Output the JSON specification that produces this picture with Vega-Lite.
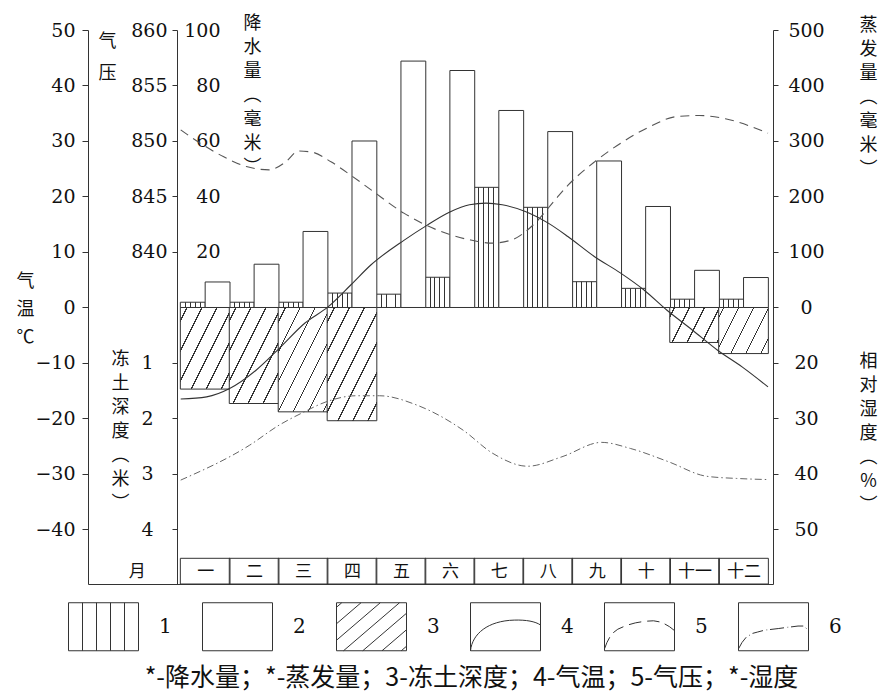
{
 "$schema": "https://vega.github.io/schema/vega-lite/v6.json",
 "width": 685,
 "height": 554,
 "autosize": {"type": "none"},
 "padding": {"left": 88, "top": 30, "right": 111, "bottom": 111},
 "background": "white",
 "config": {
  "view": {"stroke": null},
  "axis": {"grid": false, "labelFont": "DejaVu Serif", "labelFontSize": 19, "labelColor": "#111", "titleFont": "Noto Sans CJK SC", "titleFontSize": 18, "titleFontWeight": "normal", "titleColor": "#111", "domainColor": "#333", "tickColor": "#333", "labelOverlap": false, "labelFlush": false, "labelBound": false, "titleAngle": 0, "titleAlign": "center", "titleBaseline": "top"}
 },
 "datasets": {
  "months": [
   {"m": 1, "precip": 1.9, "evap": 46, "frozen": 1.47},
   {"m": 2, "precip": 1.9, "evap": 78, "frozen": 1.73},
   {"m": 3, "precip": 1.9, "evap": 137, "frozen": 1.88},
   {"m": 4, "precip": 5.2, "evap": 300, "frozen": 2.04},
   {"m": 5, "precip": 4.8, "evap": 444, "frozen": 0},
   {"m": 6, "precip": 10.9, "evap": 427, "frozen": 0},
   {"m": 7, "precip": 43.3, "evap": 355, "frozen": 0},
   {"m": 8, "precip": 36.1, "evap": 317, "frozen": 0},
   {"m": 9, "precip": 9.3, "evap": 264, "frozen": 0},
   {"m": 10, "precip": 6.9, "evap": 182, "frozen": 0},
   {"m": 11, "precip": 3.0, "evap": 67, "frozen": 0.63},
   {"m": 12, "precip": 3.0, "evap": 54, "frozen": 0.83}
  ],
  "temp": [
   {"m": 0.5, "t": -16.5}, {"m": 1.03, "t": -16.1}, {"m": 1.5, "t": -14.6}, {"m": 2.04, "t": -11.3},
   {"m": 2.51, "t": -7.4}, {"m": 3.04, "t": -2.8}, {"m": 3.51, "t": 0.1}, {"m": 3.98, "t": 4.1},
   {"m": 4.39, "t": 7.7}, {"m": 5.06, "t": 12.1}, {"m": 5.53, "t": 14.8}, {"m": 6.0, "t": 17.2},
   {"m": 6.4, "t": 18.5}, {"m": 6.74, "t": 18.8}, {"m": 7.07, "t": 18.5}, {"m": 7.54, "t": 17.3},
   {"m": 8.01, "t": 15.2}, {"m": 8.41, "t": 12.8}, {"m": 8.95, "t": 9.2}, {"m": 9.49, "t": 6.2},
   {"m": 9.96, "t": 3.2}, {"m": 10.43, "t": -0.45}, {"m": 10.96, "t": -4.1}, {"m": 11.47, "t": -7.7},
   {"m": 11.97, "t": -10.7}, {"m": 12.5, "t": -14.3}
  ],
  "pres": [
   {"m": 0.5, "p": 851.0}, {"m": 0.9, "p": 849.8}, {"m": 1.37, "p": 848.6}, {"m": 1.84, "p": 847.7},
   {"m": 2.31, "p": 847.4}, {"m": 2.64, "p": 848.1}, {"m": 2.91, "p": 849.1}, {"m": 3.18, "p": 849.0},
   {"m": 3.58, "p": 848.1}, {"m": 3.98, "p": 846.9}, {"m": 4.39, "p": 845.6}, {"m": 5.06, "p": 843.5},
   {"m": 5.73, "p": 842.0}, {"m": 6.4, "p": 841.1}, {"m": 6.87, "p": 840.8}, {"m": 7.27, "p": 841.1},
   {"m": 7.74, "p": 842.6}, {"m": 8.15, "p": 844.7}, {"m": 8.41, "p": 846.0}, {"m": 8.95, "p": 848.1},
   {"m": 9.49, "p": 849.8}, {"m": 10.09, "p": 851.3}, {"m": 10.63, "p": 852.2}, {"m": 11.1, "p": 852.3},
   {"m": 11.63, "p": 852.0}, {"m": 12.5, "p": 850.7}
  ],
  "hum": [
   {"m": 0.5, "h": 41.1}, {"m": 1.91, "h": 34.8}, {"m": 2.51, "h": 31.2}, {"m": 2.98, "h": 29.0},
   {"m": 3.47, "h": 27.0}, {"m": 4.09, "h": 25.9}, {"m": 4.56, "h": 25.9}, {"m": 5.33, "h": 27.6},
   {"m": 6.27, "h": 32.1}, {"m": 6.88, "h": 36.3}, {"m": 7.59, "h": 38.6}, {"m": 8.29, "h": 36.9},
   {"m": 9.1, "h": 34.3}, {"m": 9.69, "h": 35.4}, {"m": 10.47, "h": 37.8}, {"m": 11.24, "h": 40.4},
   {"m": 11.86, "h": 40.8}, {"m": 12.49, "h": 41.0}
  ],
  "legend": [{"k": "1"}, {"k": "2"}, {"k": "3"}, {"k": "4"}, {"k": "5"}, {"k": "6"}]
 },
 "encoding": {
  "x": {
   "field": "m", "type": "quantitative",
   "scale": {"domain": [-1.2918, 12.5], "nice": false, "zero": false},
   "axis": {
    "orient": "bottom", "values": [-0.396, 1, 2, 3, 4, 5, 6, 7, 8, 9, 10, 11, 12],
    "labelExpr": "datum.value < 0 ? '月' : ['一','二','三','四','五','六','七','八','九','十','十一','十二'][datum.value - 1]",
    "ticks": false, "tickSize": 0, "labelPadding": -13, "labelBaseline": "middle",
    "labelFont": "Noto Sans CJK SC", "labelFontSize": 17, "domain": true,
    "title": "*-降水量；*-蒸发量；3-冻土深度；4-气温；5-气压；*-湿度",
    "titleX": 383, "titleY": 93, "titleBaseline": "middle", "titleFontSize": 25
   }
  }
 },
 "layer": [
  {
   "data": {"name": "months"},
   "transform": [{"filter": "datum.frozen > 0"}],
   "mark": {"type": "bar", "width": 49.67, "stroke": "#333", "strokeWidth": 1},
   "encoding": {
    "y": {"field": "frozen", "type": "quantitative",
     "scale": {"domain": [-5, 4.982], "reverse": true, "nice": false, "zero": false},
     "axis": {"orient": "left", "offset": -89, "values": [1, 2, 3, 4], "tickSize": 5, "labelPadding": 19, "domain": false,
      "title": ["冻", "土", "深", "度", "︵", "米", "︶"], "titleX": -57, "titleY": 320, "titleLineHeight": 24}},
    "y2": {"datum": 0},
    "fill": {
     "condition": [
      {"test": "datum.m === 1", "value": {"gradient": "linear", "x1": 0, "y1": 0, "x2": 1.0876, "y2": 0.8934, "stops": [
       {"offset": 0, "color": "#ffffff"},
       {"offset": 0.0666, "color": "#ffffff"}, {"offset": 0.0666, "color": "#333333"}, {"offset": 0.0814, "color": "#333333"}, {"offset": 0.0814, "color": "#ffffff"},
       {"offset": 0.2326, "color": "#ffffff"}, {"offset": 0.2326, "color": "#333333"}, {"offset": 0.2474, "color": "#333333"}, {"offset": 0.2474, "color": "#ffffff"},
       {"offset": 0.3976, "color": "#ffffff"}, {"offset": 0.3976, "color": "#333333"}, {"offset": 0.4124, "color": "#333333"}, {"offset": 0.4124, "color": "#ffffff"},
       {"offset": 0.5636, "color": "#ffffff"}, {"offset": 0.5636, "color": "#333333"}, {"offset": 0.5784, "color": "#333333"}, {"offset": 0.5784, "color": "#ffffff"},
       {"offset": 0.7286, "color": "#ffffff"}, {"offset": 0.7286, "color": "#333333"}, {"offset": 0.7434, "color": "#333333"}, {"offset": 0.7434, "color": "#ffffff"},
       {"offset": 0.8946, "color": "#ffffff"}, {"offset": 0.8946, "color": "#333333"}, {"offset": 0.9094, "color": "#333333"}, {"offset": 0.9094, "color": "#ffffff"},
       {"offset": 1, "color": "#ffffff"}]}},
      {"test": "datum.m === 2", "value": {"gradient": "linear", "x1": 0, "y1": 0, "x2": 1.0168, "y2": 0.9826, "stops": [
       {"offset": 0, "color": "#ffffff"},
       {"offset": 0.0631, "color": "#ffffff"}, {"offset": 0.0631, "color": "#333333"}, {"offset": 0.0769, "color": "#333333"}, {"offset": 0.0769, "color": "#ffffff"},
       {"offset": 0.2165, "color": "#ffffff"}, {"offset": 0.2165, "color": "#333333"}, {"offset": 0.2303, "color": "#333333"}, {"offset": 0.2303, "color": "#ffffff"},
       {"offset": 0.3699, "color": "#ffffff"}, {"offset": 0.3699, "color": "#333333"}, {"offset": 0.3837, "color": "#333333"}, {"offset": 0.3837, "color": "#ffffff"},
       {"offset": 0.5233, "color": "#ffffff"}, {"offset": 0.5233, "color": "#333333"}, {"offset": 0.5371, "color": "#333333"}, {"offset": 0.5371, "color": "#ffffff"},
       {"offset": 0.6767, "color": "#ffffff"}, {"offset": 0.6767, "color": "#333333"}, {"offset": 0.6905, "color": "#333333"}, {"offset": 0.6905, "color": "#ffffff"},
       {"offset": 0.8301, "color": "#ffffff"}, {"offset": 0.8301, "color": "#333333"}, {"offset": 0.8439, "color": "#333333"}, {"offset": 0.8439, "color": "#ffffff"},
       {"offset": 1, "color": "#ffffff"}]}},
      {"test": "datum.m === 3", "value": {"gradient": "linear", "x1": 0, "y1": 0, "x2": 0.9751, "y2": 1.0238, "stops": [
       {"offset": 0, "color": "#ffffff"},
       {"offset": 0.0634, "color": "#ffffff"}, {"offset": 0.0634, "color": "#333333"}, {"offset": 0.0766, "color": "#333333"}, {"offset": 0.0766, "color": "#ffffff"},
       {"offset": 0.2105, "color": "#ffffff"}, {"offset": 0.2105, "color": "#333333"}, {"offset": 0.2237, "color": "#333333"}, {"offset": 0.2237, "color": "#ffffff"},
       {"offset": 0.3576, "color": "#ffffff"}, {"offset": 0.3576, "color": "#333333"}, {"offset": 0.3708, "color": "#333333"}, {"offset": 0.3708, "color": "#ffffff"},
       {"offset": 0.5047, "color": "#ffffff"}, {"offset": 0.5047, "color": "#333333"}, {"offset": 0.5179, "color": "#333333"}, {"offset": 0.5179, "color": "#ffffff"},
       {"offset": 0.6518, "color": "#ffffff"}, {"offset": 0.6518, "color": "#333333"}, {"offset": 0.665, "color": "#333333"}, {"offset": 0.665, "color": "#ffffff"},
       {"offset": 0.7989, "color": "#ffffff"}, {"offset": 0.7989, "color": "#333333"}, {"offset": 0.8121, "color": "#333333"}, {"offset": 0.8121, "color": "#ffffff"},
       {"offset": 0.946, "color": "#ffffff"}, {"offset": 0.946, "color": "#333333"}, {"offset": 0.9592, "color": "#333333"}, {"offset": 0.9592, "color": "#ffffff"},
       {"offset": 1, "color": "#ffffff"}]}},
      {"test": "datum.m === 4", "value": {"gradient": "linear", "x1": 0, "y1": 0, "x2": 0.9309, "y2": 1.0607, "stops": [
       {"offset": 0, "color": "#ffffff"},
       {"offset": 0.0637, "color": "#ffffff"}, {"offset": 0.0637, "color": "#333333"}, {"offset": 0.0763, "color": "#333333"}, {"offset": 0.0763, "color": "#ffffff"},
       {"offset": 0.2047, "color": "#ffffff"}, {"offset": 0.2047, "color": "#333333"}, {"offset": 0.2173, "color": "#333333"}, {"offset": 0.2173, "color": "#ffffff"},
       {"offset": 0.3457, "color": "#ffffff"}, {"offset": 0.3457, "color": "#333333"}, {"offset": 0.3583, "color": "#333333"}, {"offset": 0.3583, "color": "#ffffff"},
       {"offset": 0.4867, "color": "#ffffff"}, {"offset": 0.4867, "color": "#333333"}, {"offset": 0.4993, "color": "#333333"}, {"offset": 0.4993, "color": "#ffffff"},
       {"offset": 0.6277, "color": "#ffffff"}, {"offset": 0.6277, "color": "#333333"}, {"offset": 0.6403, "color": "#333333"}, {"offset": 0.6403, "color": "#ffffff"},
       {"offset": 0.7687, "color": "#ffffff"}, {"offset": 0.7687, "color": "#333333"}, {"offset": 0.7813, "color": "#333333"}, {"offset": 0.7813, "color": "#ffffff"},
       {"offset": 0.9097, "color": "#ffffff"}, {"offset": 0.9097, "color": "#333333"}, {"offset": 0.9223, "color": "#333333"}, {"offset": 0.9223, "color": "#ffffff"},
       {"offset": 1, "color": "#ffffff"}]}},
      {"test": "datum.m === 11", "value": {"gradient": "linear", "x1": 0, "y1": 0, "x2": 1.2029, "y2": 0.4238, "stops": [
       {"offset": 0, "color": "#ffffff"},
       {"offset": 0.06, "color": "#ffffff"}, {"offset": 0.06, "color": "#333333"}, {"offset": 0.08, "color": "#333333"}, {"offset": 0.08, "color": "#ffffff"},
       {"offset": 0.283, "color": "#ffffff"}, {"offset": 0.283, "color": "#333333"}, {"offset": 0.303, "color": "#333333"}, {"offset": 0.303, "color": "#ffffff"},
       {"offset": 0.506, "color": "#ffffff"}, {"offset": 0.506, "color": "#333333"}, {"offset": 0.526, "color": "#333333"}, {"offset": 0.526, "color": "#ffffff"},
       {"offset": 0.729, "color": "#ffffff"}, {"offset": 0.729, "color": "#333333"}, {"offset": 0.749, "color": "#333333"}, {"offset": 0.749, "color": "#ffffff"},
       {"offset": 0.952, "color": "#ffffff"}, {"offset": 0.952, "color": "#333333"}, {"offset": 0.972, "color": "#333333"}, {"offset": 0.972, "color": "#ffffff"},
       {"offset": 1, "color": "#ffffff"}]}},
      {"test": "datum.m === 12", "value": {"gradient": "linear", "x1": 0, "y1": 0, "x2": 1.2047, "y2": 0.559, "stops": [
       {"offset": 0, "color": "#ffffff"},
       {"offset": 0.0608, "color": "#ffffff"}, {"offset": 0.0608, "color": "#333333"}, {"offset": 0.0792, "color": "#333333"}, {"offset": 0.0792, "color": "#ffffff"},
       {"offset": 0.2668, "color": "#ffffff"}, {"offset": 0.2668, "color": "#333333"}, {"offset": 0.2852, "color": "#333333"}, {"offset": 0.2852, "color": "#ffffff"},
       {"offset": 0.4728, "color": "#ffffff"}, {"offset": 0.4728, "color": "#333333"}, {"offset": 0.4912, "color": "#333333"}, {"offset": 0.4912, "color": "#ffffff"},
       {"offset": 0.6788, "color": "#ffffff"}, {"offset": 0.6788, "color": "#333333"}, {"offset": 0.6972, "color": "#333333"}, {"offset": 0.6972, "color": "#ffffff"},
       {"offset": 0.8848, "color": "#ffffff"}, {"offset": 0.8848, "color": "#333333"}, {"offset": 0.9032, "color": "#333333"}, {"offset": 0.9032, "color": "#ffffff"},
       {"offset": 1, "color": "#ffffff"}]}}
     ],
     "value": "#ffffff"
    }
   }
  },
  {
   "data": {"name": "months"},
   "mark": {"type": "bar", "width": 24.83, "xOffset": -12.42, "stroke": "#333", "strokeWidth": 1,
    "fill": {"gradient": "linear", "x1": 0, "y1": 0, "x2": 1, "y2": 0, "stops": [
     {"offset": 0, "color": "#ffffff"}, {"offset": 0.18, "color": "#ffffff"}, {"offset": 0.18, "color": "#333333"}, {"offset": 0.22, "color": "#333333"}, {"offset": 0.22, "color": "#ffffff"},
     {"offset": 0.38, "color": "#ffffff"}, {"offset": 0.38, "color": "#333333"}, {"offset": 0.42, "color": "#333333"}, {"offset": 0.42, "color": "#ffffff"},
     {"offset": 0.58, "color": "#ffffff"}, {"offset": 0.58, "color": "#333333"}, {"offset": 0.62, "color": "#333333"}, {"offset": 0.62, "color": "#ffffff"},
     {"offset": 0.78, "color": "#ffffff"}, {"offset": 0.78, "color": "#333333"}, {"offset": 0.82, "color": "#333333"}, {"offset": 0.82, "color": "#ffffff"},
     {"offset": 1, "color": "#ffffff"}]}},
   "encoding": {
    "y": {"field": "precip", "type": "quantitative",
     "scale": {"domain": [-99.64, 100], "nice": false, "zero": false},
     "axis": {"orient": "left", "offset": -134, "values": [20, 40, 60, 80, 100], "ticks": false, "tickSize": 0, "labelPadding": 2, "domain": false,
      "title": ["降", "水", "量", "︵", "毫", "米", "︶"], "titleX": 30, "titleY": -16, "titleLineHeight": 24}},
    "y2": {"datum": 0}
   }
  },
  {
   "data": {"name": "months"},
   "mark": {"type": "bar", "width": 24.83, "xOffset": 12.42, "stroke": "#333", "strokeWidth": 1, "fill": "#ffffff"},
   "encoding": {
    "y": {"field": "evap", "type": "quantitative",
     "scale": {"domain": [-498.2, 500], "nice": false, "zero": false},
     "axis": {"orient": "right", "values": [0, 100, 200, 300, 400, 500], "tickSize": 5, "labelPadding": 28, "labelAlign": "center", "domain": true,
      "title": ["蒸", "发", "量", "︵", "毫", "米", "︶"], "titleX": 95, "titleY": -14, "titleLineHeight": 24}},
    "y2": {"datum": 0}
   }
  },
  {
   "mark": {"type": "rule", "stroke": "#333", "strokeWidth": 1},
   "encoding": {
    "x": {"datum": 0.36},
    "x2": {"datum": 12.5},
    "y": {"datum": 0, "type": "quantitative", "scale": {"domain": [-49.82, 50], "nice": false, "zero": false}, "axis": null}
   }
  },
  {
   "mark": {"type": "rule", "stroke": "#333", "strokeWidth": 1},
   "encoding": {
    "x": {"datum": -1.2918},
    "x2": {"datum": 12.5},
    "y": {"datum": -45.19, "type": "quantitative", "scale": {"domain": [-49.82, 50], "nice": false, "zero": false}, "axis": null}
   }
  },
  {
   "data": {"name": "months"},
   "mark": {"type": "bar", "width": 49.67, "fill": "#ffffff", "fillOpacity": 0, "stroke": "#333", "strokeWidth": 1},
   "encoding": {
    "y": {"datum": -45.19, "type": "quantitative", "scale": {"domain": [-49.82, 50], "nice": false, "zero": false}, "axis": null},
    "y2": {"datum": -49.82}
   }
  },
  {
   "data": {"name": "temp"},
   "mark": {"type": "line", "interpolate": "monotone", "stroke": "#333", "strokeWidth": 1.1},
   "encoding": {
    "y": {"field": "t", "type": "quantitative",
     "scale": {"domain": [-49.82, 50], "nice": false, "zero": false},
     "axis": {"orient": "left", "values": [-40, -30, -20, -10, 0, 10, 20, 30, 40, 50], "tickSize": 6, "labelPadding": 7, "domain": true,
      "title": ["气", "温", "℃"], "titleX": -63, "titleY": 242, "titleLineHeight": 28}}
   }
  },
  {
   "data": {"name": "pres"},
   "mark": {"type": "line", "interpolate": "monotone", "stroke": "#555", "strokeWidth": 1.1, "strokeDash": [9, 6]},
   "encoding": {
    "y": {"field": "p", "type": "quantitative",
     "scale": {"domain": [810.09, 860], "nice": false, "zero": false},
     "axis": {"orient": "left", "offset": -89, "values": [840, 845, 850, 855, 860], "tickSize": 5, "labelPadding": 5, "domain": true,
      "title": ["气", "压"], "titleX": -70, "titleY": 2, "titleLineHeight": 32}}
   }
  },
  {
   "data": {"name": "hum"},
   "mark": {"type": "line", "interpolate": "monotone", "stroke": "#666", "strokeWidth": 1, "strokeDash": [7, 3, 1.5, 3]},
   "encoding": {
    "y": {"field": "h", "type": "quantitative",
     "scale": {"domain": [-40, 59.82], "reverse": true, "nice": false, "zero": false},
     "axis": {"orient": "right", "values": [20, 30, 40, 50], "tickSize": 5, "labelPadding": 28, "labelAlign": "center", "domain": false,
      "title": ["相", "对", "湿", "度", "︵", "%", "︶"], "titleX": 95, "titleY": 322, "titleLineHeight": 24}}
   }
  },
  {
   "data": {"name": "legend"},
   "mark": {"type": "point", "opacity": 0},
   "encoding": {
    "shape": {"field": "k", "type": "nominal",
     "scale": {"domain": ["1", "2", "3", "4", "5", "6"], "range": [
      "M-1,-0.686H1V0.686H-1Z M-0.6,-0.686V0.686 M-0.2,-0.686V0.686 M0.2,-0.686V0.686 M0.6,-0.686V0.686",
      "M-1,-0.686H1V0.686H-1Z",
      "M-1,-0.686H1V0.686H-1Z M-1,-0.557L-0.85,-0.686 M-1,-0.086L-0.3,-0.686 M-1,0.386L0.25,-0.686 M-0.8,0.686L0.8,-0.686 M-0.25,0.686L1,-0.386 M0.3,0.686L1,0.086 M0.85,0.686L1,0.557",
      "M-1,-0.686H1V0.686H-1Z M-1,0.686C-0.95,0.2 -0.5,-0.17 0.25,-0.19C0.6,-0.2 0.85,-0.15 1,-0.05",
      "M-1,-0.686H1V0.686H-1Z M-1,0.63L-0.93,0.45L-0.85,0.3 M-0.75,0.17L-0.62,0.07L-0.46,0 M-0.3,-0.06L-0.12,-0.11L0.05,-0.14 M0.22,-0.16L0.4,-0.17L0.57,-0.14 M0.72,-0.08L0.86,0L1,0.11",
      "M-1,-0.686H1V0.686H-1Z M-1,0.63L-0.9,0.45L-0.78,0.3 M-0.7,0.25L-0.68,0.24 M-0.6,0.19L-0.45,0.15L-0.3,0.11 M-0.2,0.09L-0.18,0.09 M-0.1,0.08L0.15,0.05L0.3,0.03 M0.4,0.015L0.42,0.013 M0.5,0.005L0.7,-0.02L0.85,-0.02 M0.92,0.03L0.94,0.05"
     ]},
     "legend": {"orient": "none", "legendX": -20, "legendY": 561, "direction": "horizontal", "columns": 6, "columnPadding": 28,
      "symbolSize": 4900, "symbolStrokeColor": "#333", "symbolFillColor": "#ffffff", "symbolStrokeWidth": 1, "symbolOpacity": 1,
      "labelFont": "DejaVu Serif", "labelFontSize": 20, "labelOffset": 20, "labelColor": "#111", "title": null, "padding": 0}}
   }
  }
 ],
 "resolve": {"scale": {"y": "independent"}}
}
